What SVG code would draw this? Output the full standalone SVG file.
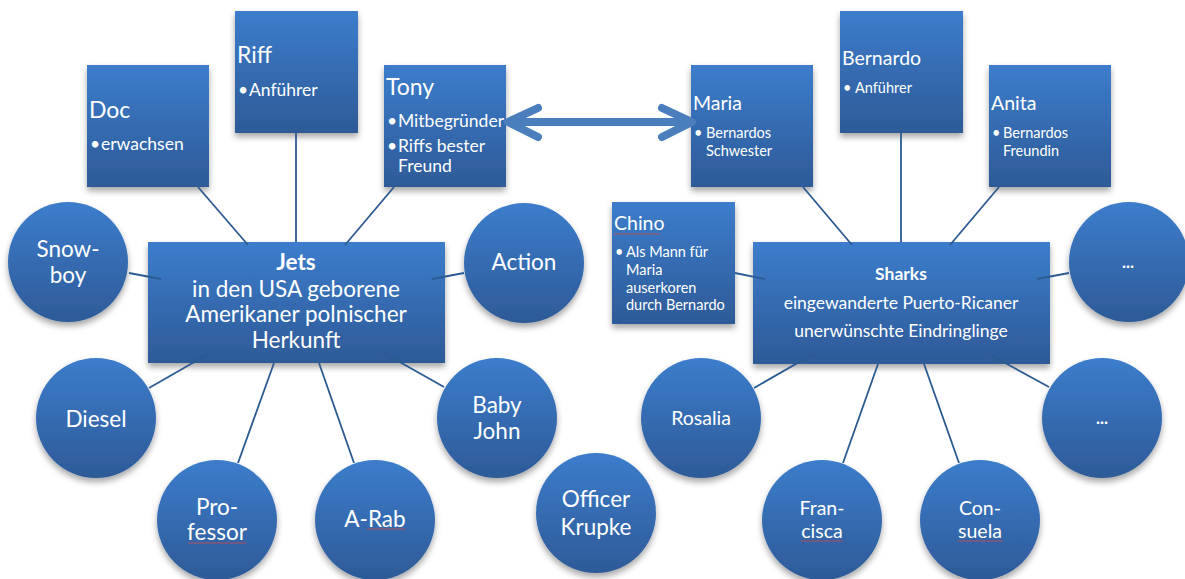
<svg xmlns="http://www.w3.org/2000/svg" width="1185" height="579" viewBox="0 0 1185 579">
<defs>
<linearGradient id="g" x1="0" y1="0" x2="0" y2="1">
<stop offset="0" stop-color="#3c7dcc"/>
<stop offset="1" stop-color="#2e5a97"/>
</linearGradient>
<filter id="sh" x="-20%" y="-20%" width="140%" height="150%">
<feDropShadow dx="0" dy="4" stdDeviation="3" flood-color="#000" flood-opacity="0.35"/>
</filter>
</defs>
<style>
.shape{fill:url(#g);filter:url(#sh)}
text{font-family:Lato,"Open Sans","DejaVu Sans",sans-serif;fill:#fff}
.t1{font-size:23px}
.b1{font-size:17.5px}
.t2{font-size:19.5px}
.b2{font-size:14.5px}
.big{font-size:22.5px;text-anchor:middle}
.mid{font-size:17.5px;text-anchor:middle}
.c1{font-size:22.5px;text-anchor:middle}
.c2{font-size:19.5px;text-anchor:middle}
.dots{font-size:17px;font-weight:bold;text-anchor:middle}
.bold{font-weight:bold}
.con line{stroke:#2c5a92;stroke-width:1.8}
.sp{stroke:#d04848;stroke-width:1;opacity:0.8}
</style>
<rect width="1185" height="579" fill="#fff"/>

<g id="doc"><rect class="shape" x="87" y="65" width="122" height="122"/><text class="t1" x="89" y="118">Doc</text><text class="b1" x="90" y="150">•</text><text class="b1" x="101" y="150">erwachsen</text></g>
<g id="riff"><rect class="shape" x="235" y="11" width="123" height="122"/><text class="t1" x="237" y="63">Riff</text><text class="b1" x="238" y="96">•</text><text class="b1" x="249" y="96">Anführer</text></g>
<g id="tony"><rect class="shape" x="384" y="65" width="122" height="122"/><text class="t1" x="386" y="95">Tony</text><text class="b1" x="387" y="127">•</text><text class="b1" x="398" y="127">Mitbegründer</text><text class="b1" x="387" y="152">•</text><text class="b1" x="398" y="152">Riffs bester</text><text class="b1" x="398" y="172">Freund</text></g>

<g id="jets"><rect class="shape" x="148" y="242" width="297" height="121"/><text class="big bold" x="296" y="270">Jets</text><text class="big" x="296" y="297">in den USA geborene</text><text class="big" x="296" y="322">Amerikaner polnischer</text><text class="big" x="296" y="348">Herkunft</text></g>

<g id="snowboy"><circle class="shape" cx="68" cy="262" r="60"/><text class="c1" x="68" y="257">Snow-</text><text class="c1" x="68" y="283">boy</text></g>
<g id="action"><circle class="shape" cx="524" cy="263" r="60"/><text class="c1" x="524" y="270">Action</text></g>
<g id="diesel"><circle class="shape" cx="96" cy="418" r="60"/><text class="c1" x="96" y="427">Diesel</text></g>
<g id="babyjohn"><circle class="shape" cx="497" cy="418" r="60"/><text class="c1" x="497" y="413">Baby</text><text class="c1" x="497" y="439">John</text></g>
<g id="professor"><circle class="shape" cx="217" cy="520" r="60"/><text class="c1" x="217" y="515">Pro-</text><text class="c1" x="217" y="540">fessor</text><line class="sp" x1="188" y1="543" x2="246" y2="543"/></g>
<g id="arab"><circle class="shape" cx="375" cy="520" r="60"/><text class="c1" x="375" y="527">A-Rab</text><line class="sp" x1="367" y1="529" x2="405" y2="529"/></g>
<g id="krupke"><circle class="shape" cx="596" cy="513" r="60"/><text class="c1" x="596" y="507">Officer</text><text class="c1" x="596" y="535">Krupke</text></g>

<g id="maria"><rect class="shape" x="691" y="65" width="122" height="122"/><text class="t2" x="693" y="110">Maria</text><text class="b2" x="694" y="138">•</text><text class="b2" x="706" y="138">Bernardos</text><text class="b2" x="706" y="156">Schwester</text></g>
<g id="bernardo"><rect class="shape" x="840" y="11" width="123" height="122"/><text class="t2" x="842" y="65">Bernardo</text><text class="b2" x="843" y="93">•</text><text class="b2" x="855" y="93">Anführer</text></g>
<g id="anita"><rect class="shape" x="989" y="65" width="122" height="122"/><text class="t2" x="991" y="110">Anita</text><text class="b2" x="992" y="138">•</text><text class="b2" x="1003" y="138">Bernardos</text><text class="b2" x="1003" y="156">Freundin</text></g>
<g id="chino"><rect class="shape" x="612" y="202" width="123" height="122"/><text class="t2" x="614" y="230">Chino</text><line class="sp" x1="614" y1="234" x2="660" y2="234"/><text class="b2" x="615" y="257">•</text><text class="b2" x="626" y="257">Als Mann für</text><text class="b2" x="626" y="275">Maria</text><text class="b2" x="626" y="293">auserkoren</text><text class="b2" x="626" y="310">durch Bernardo</text></g>

<g id="sharks"><rect class="shape" x="753" y="242" width="297" height="122"/><text class="mid bold" x="901" y="280">Sharks</text><text class="mid" x="901" y="309">eingewanderte Puerto-Ricaner</text><text class="mid" x="901" y="337">unerwünschte Eindringlinge</text></g>

<g id="more1"><circle class="shape" cx="1129" cy="262" r="60"/><text class="dots" x="1128" y="268">...</text></g>
<g id="more2"><circle class="shape" cx="1102" cy="418" r="60"/><text class="dots" x="1102" y="424">...</text></g>
<g id="rosalia"><circle class="shape" cx="701" cy="418" r="60"/><text class="c2" x="701" y="425">Rosalia</text></g>
<g id="francisca"><circle class="shape" cx="822" cy="520" r="60"/><text class="c2" x="822" y="515">Fran-</text><text class="c2" x="822" y="538">cisca</text><line class="sp" x1="801" y1="541" x2="843" y2="541"/></g>
<g id="consuela"><circle class="shape" cx="980" cy="520" r="60"/><text class="c2" x="980" y="515">Con-</text><text class="c2" x="980" y="538">suela</text><line class="sp" x1="958" y1="541" x2="1003" y2="541"/></g>

<g id="connectors" class="con">
<line x1="198" y1="187" x2="248" y2="245"/>
<line x1="296" y1="133" x2="296" y2="242"/>
<line x1="394" y1="187" x2="345" y2="245"/>
<line x1="129" y1="273" x2="161" y2="279"/>
<line x1="464" y1="273" x2="432" y2="279"/>
<line x1="149" y1="388" x2="210" y2="353"/>
<line x1="238" y1="463" x2="274" y2="363"/>
<line x1="354" y1="463" x2="319" y2="363"/>
<line x1="444" y1="387" x2="382" y2="352"/>
<line x1="803" y1="187" x2="852" y2="245"/>
<line x1="901" y1="133" x2="901" y2="242"/>
<line x1="999" y1="187" x2="950" y2="245"/>
<line x1="735" y1="273" x2="765" y2="279"/>
<line x1="1069" y1="273" x2="1037" y2="279"/>
<line x1="754" y1="388" x2="815" y2="353"/>
<line x1="843" y1="463" x2="878" y2="364"/>
<line x1="959" y1="463" x2="924" y2="364"/>
<line x1="1049" y1="387" x2="987" y2="353"/>
<path d="M511,122 H688 M538,108 L508,122 L538,137 M662,108 L692,122 L662,137" fill="none" stroke="#4a7ebc" stroke-width="8" stroke-linecap="round" stroke-linejoin="round"/>
</g>
</svg>
